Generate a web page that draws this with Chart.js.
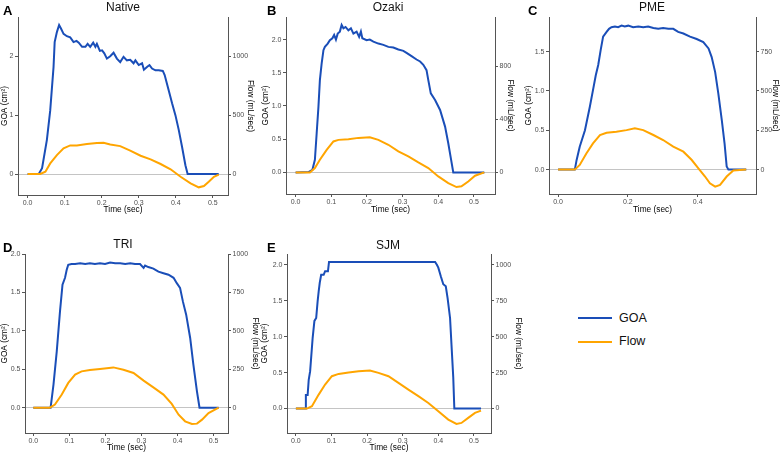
<!DOCTYPE html>
<html>
<head>
<meta charset="utf-8">
<script src="https://cdn.jsdelivr.net/npm/chart.js@4.4.1/dist/chart.umd.min.js"></script>
<style>
  body { margin: 0; width: 780px; height: 454px; position: relative; overflow: hidden; background: #fff;
         font-family: "Liberation Sans", Arial, sans-serif; }
  canvas, .lbl, .key { position: absolute; }
  .lbl { line-height: 1; white-space: nowrap; color: #111; }
  .letter { font-weight: bold; font-size: 13px; color: #000; }
  .ttl { font-size: 12px; transform: translateX(-50%); }
  .leg { font-size: 12.5px; }
  .key { height: 2px; width: 34px; }
</style>
</head>
<body>
<canvas id="pA" width="255" height="215" style="left:0px;top:0px"></canvas>
<canvas id="pB" width="254" height="215" style="left:261px;top:0px"></canvas>
<canvas id="pC" width="256" height="215" style="left:524px;top:0px"></canvas>
<canvas id="pD" width="260" height="228" style="left:0px;top:225px"></canvas>
<canvas id="pE" width="263" height="228" style="left:260px;top:225px"></canvas>

<div class="lbl letter" style="left:3px;top:4px">A</div>
<div class="lbl letter" style="left:267px;top:4px">B</div>
<div class="lbl letter" style="left:528px;top:4px">C</div>
<div class="lbl letter" style="left:3px;top:241px">D</div>
<div class="lbl letter" style="left:267px;top:241px">E</div>

<div class="lbl ttl" style="left:123px;top:1px">Native</div>
<div class="lbl ttl" style="left:388px;top:1px">Ozaki</div>
<div class="lbl ttl" style="left:652px;top:1px">PME</div>
<div class="lbl ttl" style="left:123px;top:238px">TRI</div>
<div class="lbl ttl" style="left:388px;top:239px">SJM</div>

<div class="key" style="left:578px;top:317px;background:#1a4eb8"></div>
<div class="lbl leg" style="left:619px;top:312px">GOA</div>
<div class="key" style="left:578px;top:341px;background:#ffa500"></div>
<div class="lbl leg" style="left:619px;top:335px">Flow</div>

<script>
// ---- data ----
const timeTicks = [0, 0.1, 0.2, 0.3, 0.4, 0.5];
const pmeTimeTicks = [0, 0.2, 0.4];

// A - Native
const nativeGoaTime = [0, 0.030, 0.039, 0.052, 0.061, 0.070, 0.073, 0.079, 0.085, 0.090,
  0.097, 0.106, 0.115, 0.124, 0.132, 0.138, 0.147, 0.156, 0.162, 0.169,
  0.177, 0.183, 0.187, 0.195, 0.201, 0.207, 0.214, 0.223, 0.232, 0.241,
  0.250, 0.259, 0.268, 0.277, 0.286, 0.291, 0.300, 0.309, 0.314, 0.323,
  0.329, 0.336, 0.345, 0.354, 0.365, 0.370, 0.381, 0.390, 0.399, 0.408,
  0.417, 0.426, 0.432, 0.516];
const nativeGoa = [0, 0, 0.10, 0.58, 1.08, 1.82, 2.24, 2.41, 2.53, 2.47,
  2.38, 2.34, 2.32, 2.24, 2.26, 2.23, 2.16, 2.16, 2.21, 2.16,
  2.23, 2.16, 2.21, 2.09, 2.10, 2.05, 1.96, 2.00, 2.06, 1.96,
  1.90, 1.99, 1.93, 1.94, 1.88, 1.93, 1.85, 1.88, 1.77, 1.82,
  1.85, 1.79, 1.76, 1.76, 1.75, 1.68, 1.42, 1.20, 1.00, 0.75,
  0.46, 0.15, 0, 0];
const nativeFlowTime = [0, 0.034, 0.048, 0.061, 0.079, 0.097, 0.115, 0.133, 0.160, 0.187,
  0.205, 0.223, 0.250, 0.277, 0.305, 0.332, 0.359, 0.386, 0.413, 0.440,
  0.462, 0.476, 0.489, 0.503, 0.516];
const nativeFlow = [0, 0, 20, 90, 161, 218, 243, 243, 254, 263,
  266, 251, 237, 198, 155, 124, 85, 40, -23, -79,
  -113, -102, -65, -23, -5];
const nativeGoaTicks = [0, 1, 2];
const nativeFlowTicks = [0, 500, 1000];

// B - Ozaki
const ozakiGoaTime = [0, 0.036, 0.047, 0.054, 0.059, 0.064, 0.068, 0.073, 0.078, 0.082,
  0.090, 0.096, 0.103, 0.108, 0.113, 0.118, 0.124, 0.129, 0.134, 0.140,
  0.148, 0.155, 0.162, 0.171, 0.178, 0.183, 0.187, 0.199, 0.208, 0.218,
  0.232, 0.246, 0.260, 0.274, 0.288, 0.302, 0.311, 0.325, 0.339, 0.349,
  0.358, 0.367, 0.372, 0.379, 0.391, 0.405, 0.419, 0.428, 0.436, 0.442,
  0.529];
const ozakiGoa = [0, 0.005, 0.04, 0.19, 0.59, 0.99, 1.39, 1.64, 1.84, 1.89,
  1.94, 1.99, 2.02, 2.07, 2.00, 2.09, 2.12, 2.22, 2.17, 2.19,
  2.14, 2.17, 2.09, 2.12, 2.04, 2.12, 2.02, 1.99, 2.00, 1.97,
  1.94, 1.92, 1.89, 1.88, 1.85, 1.83, 1.80, 1.75, 1.70, 1.67,
  1.62, 1.54, 1.39, 1.19, 1.09, 0.94, 0.69, 0.44, 0.19, 0,
  0];
const ozakiFlowTime = [0, 0.040, 0.054, 0.068, 0.087, 0.106, 0.120, 0.148, 0.176, 0.208,
  0.232, 0.260, 0.288, 0.316, 0.344, 0.372, 0.400, 0.428, 0.451, 0.465,
  0.484, 0.503, 0.529];
const ozakiFlow = [0, 0, 33, 95, 170, 233, 245, 250, 260, 265,
  245, 208, 158, 120, 75, 33, -30, -80, -110, -105,
  -68, -25, 0];
const ozakiGoaTicks = [0, 0.5, 1, 1.5, 2];
const ozakiFlowTicks = [0, 400, 800];

// C - PME
const pmeGoaTime = [0, 0.048, 0.053, 0.062, 0.077, 0.091, 0.100, 0.108, 0.115, 0.122,
  0.129, 0.139, 0.146, 0.153, 0.163, 0.172, 0.182, 0.191, 0.201, 0.215,
  0.230, 0.244, 0.258, 0.273, 0.287, 0.301, 0.316, 0.330, 0.344, 0.359,
  0.378, 0.397, 0.416, 0.431, 0.440, 0.450, 0.459, 0.469, 0.477, 0.483,
  0.488, 0.539];
const pmeGoa = [0, 0, 0.12, 0.29, 0.50, 0.80, 1.01, 1.20, 1.33, 1.52,
  1.69, 1.75, 1.79, 1.81, 1.82, 1.81, 1.83, 1.82, 1.83, 1.81,
  1.82, 1.81, 1.82, 1.80, 1.79, 1.80, 1.79, 1.79, 1.75, 1.73,
  1.69, 1.66, 1.62, 1.54, 1.43, 1.24, 0.97, 0.63, 0.33, 0.04,
  0, 0];
const pmeFlowTime = [0, 0.048, 0.062, 0.081, 0.100, 0.120, 0.139, 0.167, 0.196, 0.220,
  0.244, 0.273, 0.301, 0.330, 0.359, 0.383, 0.402, 0.421, 0.435, 0.450,
  0.464, 0.483, 0.502, 0.539];
const pmeFlow = [0, 0, 30, 103, 167, 220, 234, 241, 251, 262,
  251, 220, 188, 146, 114, 61, 8, -44, -87, -108,
  -97, -44, -6, 0];
const pmeGoaTicks = [0, 0.5, 1, 1.5];
const pmeFlowTicks = [0, 250, 500, 750];

// D - TRI
const triGoaTime = [0, 0.048, 0.056, 0.065, 0.074, 0.081, 0.088, 0.093, 0.097, 0.106,
  0.116, 0.130, 0.144, 0.157, 0.171, 0.185, 0.199, 0.213, 0.227, 0.241,
  0.255, 0.269, 0.282, 0.296, 0.306, 0.310, 0.319, 0.333, 0.347, 0.361,
  0.375, 0.389, 0.398, 0.407, 0.415, 0.424, 0.435, 0.444, 0.454, 0.461,
  0.514];
const triGoa = [0, 0, 0.30, 0.73, 1.25, 1.60, 1.69, 1.80, 1.86, 1.87,
  1.87, 1.88, 1.87, 1.88, 1.87, 1.88, 1.87, 1.89, 1.88, 1.88,
  1.87, 1.88, 1.87, 1.87, 1.82, 1.85, 1.83, 1.81, 1.77, 1.75,
  1.73, 1.69, 1.62, 1.56, 1.38, 1.21, 0.91, 0.56, 0.21, 0,
  0];
const triFlowTime = [0, 0.046, 0.060, 0.079, 0.097, 0.116, 0.134, 0.157, 0.185, 0.222,
  0.250, 0.278, 0.306, 0.333, 0.361, 0.384, 0.403, 0.421, 0.440, 0.454,
  0.468, 0.486, 0.514];
const triFlow = [0, 0, 20, 85, 161, 215, 236, 245, 252, 262,
  247, 226, 176, 132, 85, 24, -46, -89, -106, -104,
  -78, -35, 0];
const triGoaTicks = [0, 0.5, 1, 1.5, 2];
const triFlowTicks = [0, 250, 500, 750, 1000];

// E - SJM
const sjmGoaTime = [0, 0.026, 0.028, 0.033, 0.036, 0.040, 0.047, 0.052, 0.057, 0.061,
  0.064, 0.067, 0.071, 0.078, 0.082, 0.090, 0.093, 0.391, 0.396, 0.400,
  0.407, 0.414, 0.421, 0.426, 0.433, 0.437, 0.442, 0.445, 0.520];
const sjmGoa = [0, 0, 0.19, 0.19, 0.40, 0.52, 0.98, 1.22, 1.26, 1.49,
  1.63, 1.75, 1.86, 1.86, 1.91, 1.91, 2.04, 2.04, 2.00, 1.96,
  1.84, 1.73, 1.70, 1.54, 1.26, 0.89, 0.43, 0, 0];
const sjmFlowTime = [0, 0.031, 0.045, 0.064, 0.082, 0.101, 0.120, 0.148, 0.176, 0.208,
  0.232, 0.260, 0.288, 0.316, 0.344, 0.372, 0.400, 0.428, 0.451, 0.465,
  0.484, 0.503, 0.520];
const sjmFlow = [0, 0, 16, 97, 167, 225, 241, 251, 260, 265,
  248, 225, 179, 132, 86, 39, -19, -77, -107, -100,
  -65, -30, -14];
const sjmGoaTicks = [0, 0.5, 1, 1.5, 2];
const sjmFlowTicks = [0, 250, 500, 750, 1000];

// flow axis = GOA axis * 500 in every panel
const FLOW_PER_GOA = 500;

const BLUE = '#1a4eb8';
const ORANGE = '#ffa500';
const AXIS = '#555555';
const TICK = '#4d4d4d';

Chart.defaults.font.family = '"Liberation Sans", Arial, sans-serif';

function pts(xs, ys) {
  return xs.map((x, i) => ({ x: x, y: ys[i] }));
}

function panel(id, o) {
  const tickFont = { size: 7 };
  const titleFont = { size: 8.3 };
  new Chart(document.getElementById(id), {
    type: 'line',
    data: {
      datasets: [
        { label: 'Flow', data: pts(o.flowT, o.flow), yAxisID: 'y2', borderColor: ORANGE,
          borderWidth: 2, pointRadius: 0, tension: 0, fill: false, order: 0 },
        { label: 'GOA', data: pts(o.goaT, o.goa), yAxisID: 'y', borderColor: BLUE,
          borderWidth: 2, pointRadius: 0, tension: 0, fill: false, order: 1 }
      ]
    },
    options: {
      responsive: false,
      animation: false,
      events: [],
      layout: { padding: { top: o.padTop, left: 0, right: 0, bottom: 0 } },
      plugins: { legend: { display: false }, tooltip: { enabled: false } },
      scales: {
        x: {
          type: 'linear', min: o.xMin, max: o.xMax,
          afterBuildTicks: s => { s.ticks = o.xTicks.map(v => ({ value: v })); },
          afterFit: s => { s.height = o.xH; },
          ticks: { callback: v => v.toFixed(1), color: TICK, font: tickFont, padding: 1,
                   maxRotation: 0, autoSkip: false },
          grid: { drawOnChartArea: false, tickLength: 3, tickColor: AXIS },
          border: { color: AXIS, width: 1 },
          title: { display: true, text: 'Time (sec)', color: '#000', font: titleFont, padding: 0 }
        },
        y: {
          position: 'left', min: o.yMin, max: o.yMax,
          afterBuildTicks: s => { s.ticks = o.goaTicks.map(v => ({ value: v })); },
          afterFit: s => { s.width = o.yW; },
          ticks: { callback: v => v.toFixed(o.dec), color: TICK, font: tickFont, padding: 1.5 },
          grid: { color: c => (c.tick && c.tick.value === 0) ? '#c4c4c4' : 'rgba(0,0,0,0)',
                  lineWidth: 1, tickLength: 3, tickColor: AXIS },
          border: { color: AXIS, width: 1 },
          title: { display: true, text: 'GOA (cm²)', color: '#000', font: titleFont, padding: 0 }
        },
        y2: {
          position: 'right', min: o.yMin * FLOW_PER_GOA, max: o.yMax * FLOW_PER_GOA,
          afterBuildTicks: s => { s.ticks = o.flowTicks.map(v => ({ value: v })); },
          afterFit: s => { s.width = o.y2W; },
          ticks: { callback: v => String(v), color: TICK, font: tickFont, padding: 1.5 },
          grid: { drawOnChartArea: false, tickLength: 3, tickColor: AXIS },
          border: { color: AXIS, width: 1 },
          title: { display: true, text: 'Flow (mL/sec)', color: '#000', font: titleFont, padding: 0 }
        }
      }
    }
  });
}

panel('pA', { goaT: nativeGoaTime, goa: nativeGoa, flowT: nativeFlowTime, flow: nativeFlow,
  xTicks: timeTicks, goaTicks: nativeGoaTicks, flowTicks: nativeFlowTicks, dec: 0,
  xMin: -0.026, xMax: 0.541, yMin: -0.356, yMax: 2.666,
  padTop: 17, yW: 18, y2W: 27, xH: 20 });

panel('pB', { goaT: ozakiGoaTime, goa: ozakiGoa, flowT: ozakiFlowTime, flow: ozakiFlow,
  xTicks: timeTicks, goaTicks: ozakiGoaTicks, flowTicks: ozakiFlowTicks, dec: 1,
  xMin: -0.027, xMax: 0.559, yMin: -0.325, yMax: 2.34,
  padTop: 17, yW: 25, y2W: 20, xH: 21 });

panel('pC', { goaT: pmeGoaTime, goa: pmeGoa, flowT: pmeFlowTime, flow: pmeFlow,
  xTicks: pmeTimeTicks, goaTicks: pmeGoaTicks, flowTicks: pmeFlowTicks, dec: 1,
  xMin: -0.026, xMax: 0.567, yMin: -0.31, yMax: 1.94,
  padTop: 17, yW: 25, y2W: 24, xH: 21 });

panel('pD', { goaT: triGoaTime, goa: triGoa, flowT: triFlowTime, flow: triFlow,
  xTicks: timeTicks, goaTicks: triGoaTicks, flowTicks: triFlowTicks, dec: 1,
  xMin: -0.023, xMax: 0.540, yMin: -0.33, yMax: 2.0,
  padTop: 29, yW: 25, y2W: 32, xH: 20 });

panel('pE', { goaT: sjmGoaTime, goa: sjmGoa, flowT: sjmFlowTime, flow: sjmFlow,
  xTicks: timeTicks, goaTicks: sjmGoaTicks, flowTicks: sjmFlowTicks, dec: 1,
  xMin: -0.025, xMax: 0.548, yMin: -0.34, yMax: 2.15,
  padTop: 29, yW: 27, y2W: 32, xH: 20 });
</script>
</body>
</html>
